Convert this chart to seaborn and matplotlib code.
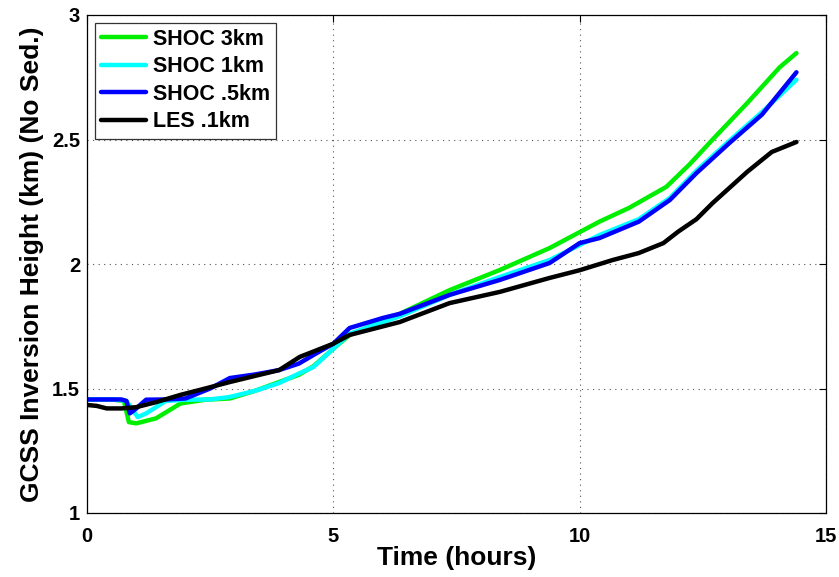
import numpy as np
import pandas as pd
import matplotlib
matplotlib.use("Agg")
import matplotlib.pyplot as plt
import seaborn as sns

# ---- data ----
t_green = [0.0, 0.5, 0.75, 0.85, 1.0, 1.4, 1.9, 2.4, 2.9, 3.4, 3.9, 4.3, 4.6, 5.0, 5.33, 6.35, 7.36, 8.38, 9.39, 10.0, 10.4, 11.0, 11.76, 12.23, 12.7, 13.4, 14.06, 14.4]
y_green = [1.456, 1.456, 1.45, 1.365, 1.36, 1.38, 1.44, 1.455, 1.46, 1.49, 1.526, 1.555, 1.59, 1.66, 1.715, 1.80, 1.895, 1.976, 2.064, 2.128, 2.17, 2.225, 2.31, 2.40, 2.50, 2.646, 2.79, 2.847]

t_cyan = [0.0, 0.6, 0.8, 1.03, 1.2, 1.6, 2.0, 2.5, 2.9, 3.4, 3.9, 4.3, 4.6, 5.0, 5.33, 6.35, 7.36, 8.38, 9.39, 10.4, 11.2, 11.83, 12.37, 13.04, 13.7, 14.4]
y_cyan = [1.456, 1.456, 1.45, 1.385, 1.40, 1.45, 1.455, 1.456, 1.466, 1.49, 1.522, 1.56, 1.587, 1.66, 1.72, 1.79, 1.876, 1.948, 2.016, 2.116, 2.18, 2.265, 2.375, 2.495, 2.61, 2.74]

t_blue = [0.0, 0.7, 0.8, 0.87, 1.0, 1.2, 1.6, 2.0, 2.5, 2.9, 3.4, 3.9, 4.3, 4.6, 5.0, 5.33, 6.0, 6.35, 7.36, 8.38, 9.39, 10.0, 10.4, 11.2, 11.83, 12.37, 13.04, 13.7, 14.4]
y_blue = [1.456, 1.456, 1.45, 1.40, 1.42, 1.455, 1.456, 1.46, 1.50, 1.542, 1.556, 1.574, 1.60, 1.635, 1.68, 1.743, 1.783, 1.80, 1.876, 1.936, 2.004, 2.084, 2.104, 2.17, 2.257, 2.365, 2.486, 2.60, 2.77]

t_black = [0.0, 0.2, 0.4, 0.7, 1.0, 1.4, 1.89, 2.4, 2.9, 3.4, 3.9, 4.32, 5.0, 5.33, 6.35, 7.36, 8.38, 9.39, 10.0, 10.67, 11.2, 11.7, 12.0, 12.37, 12.7, 13.4, 13.9, 14.4]
y_black = [1.434, 1.43, 1.42, 1.42, 1.425, 1.445, 1.474, 1.50, 1.526, 1.55, 1.574, 1.627, 1.68, 1.715, 1.767, 1.843, 1.888, 1.944, 1.975, 2.016, 2.044, 2.084, 2.13, 2.18, 2.245, 2.37, 2.45, 2.49]

series_names = ["SHOC 3km", "SHOC 1km", "SHOC .5km", "LES .1km"]
series_colors = ["#00ee00", "#00ffff", "#0000ff", "#000000"]

x_ticks = [0, 5, 10, 15]
y_ticks = [1, 1.5, 2, 2.5, 3]
x_labels = ["0", "5", "10", "15"]
y_labels = ["1", "1.5", "2", "2.5", "3"]

frames = []
for name, t, y in zip(series_names,
                      [t_green, t_cyan, t_blue, t_black],
                      [y_green, y_cyan, y_blue, y_black]):
    frames.append(pd.DataFrame({"Time": t, "Height": y, "Case": name}))
df = pd.concat(frames, ignore_index=True)

sns.set_style("white")
plt.rcParams["font.family"] = ["Liberation Sans", "DejaVu Sans"]
plt.rcParams["font.weight"] = "bold"
for k in ["text.color", "axes.labelcolor", "xtick.color", "ytick.color"]:
    plt.rcParams[k] = "black"

fig = plt.figure(figsize=(8.39, 5.77), dpi=100)
ax = fig.add_axes([87 / 839, (577 - 513) / 577, (826 - 87) / 839, (513 - 15) / 577])

sns.lineplot(data=df, x="Time", y="Height", hue="Case", hue_order=series_names,
             palette=dict(zip(series_names, series_colors)), sort=False,
             linewidth=3.2, ax=ax, estimator=None)

ax.set_xlim(0, 15)
ax.set_ylim(1, 3)
ax.set_xticks(x_ticks)
ax.set_xticklabels(x_labels, fontsize=14.5, fontweight="bold")
ax.set_yticks(y_ticks)
ax.set_yticklabels(y_labels, fontsize=14.5, fontweight="bold")
ax.grid(True, linestyle=(0, (1, 4)), color="#555555", linewidth=0.8)
ax.tick_params(axis="x", pad=10)
ax.tick_params(axis="y", pad=5)
ax.tick_params(direction="in", length=5, width=0.8, top=True, right=True, colors="black")
for s in ax.spines.values():
    s.set_visible(True)
    s.set_color("black")
    s.set_linewidth(0.9)

ax.set_xlabel("Time (hours)", fontsize=19, fontweight="bold", labelpad=0)
ax.set_ylabel("GCSS Inversion Height (km) (No Sed.)", fontsize=19, fontweight="bold", labelpad=6)

leg = ax.legend(loc="upper left", fontsize=15.5, frameon=True, fancybox=False,
                edgecolor="black", handlelength=2.1, handletextpad=0.3,
                labelspacing=0.3, borderpad=0.3, borderaxespad=0.35)
leg.get_frame().set_linewidth(0.9)
for txt in leg.get_texts():
    txt.set_fontweight("bold")
for line in leg.get_lines():
    line.set_linewidth(3.2)

fig.savefig("out.png", dpi=100, facecolor="white")
